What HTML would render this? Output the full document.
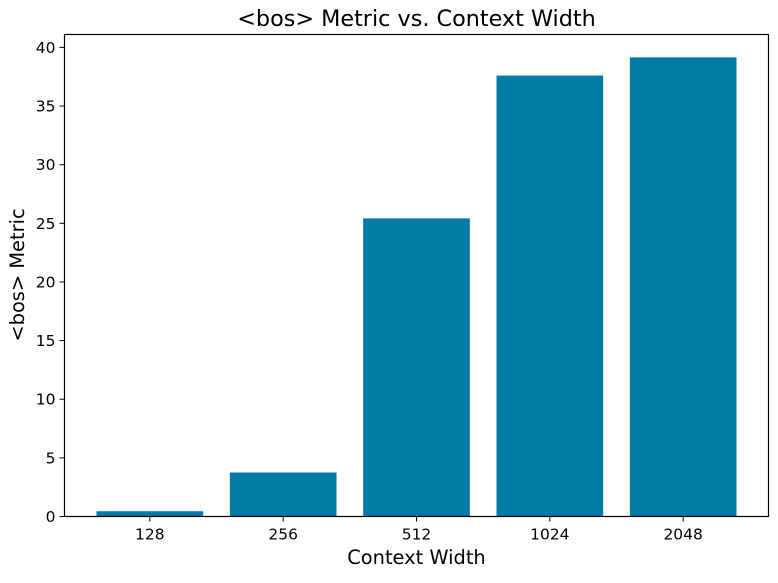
<!DOCTYPE html>
<html><head><meta charset="utf-8"><style>
body{margin:0;background:#fff;}
svg text{font-family:"DejaVu Sans","Liberation Sans",sans-serif;fill:#000;}
</style></head><body>
<svg width="778" height="578" xmlns="http://www.w3.org/2000/svg">
<rect width="778" height="578" fill="#fff"/>
<g id="bars"></g>
<g id="axes"></g>
<text x="416.5" y="26" font-size="22.3" text-anchor="middle">&lt;bos&gt; Metric vs. Context Width</text>
<text x="416.5" y="564" font-size="19.4" text-anchor="middle">Context Width</text>
<text transform="translate(24,275) rotate(-90)" font-size="19.4" text-anchor="middle">&lt;bos&gt; Metric</text>
</svg>
<script>
const categories = ["128","256","512","1024","2048"];
const values = [0.45, 3.75, 25.42, 37.6, 39.15];
const yTicks = [0,5,10,15,20,25,30,35,40];

const L=64.5, R=768.5, T=34.5, B=516.5;
const xMin=-0.64, xMax=4.64, yMax=41.1;
const x = i => L + (i - xMin)/(xMax-xMin)*(R-L);
const y = v => B - v/yMax*(B-T);
const NS="http://www.w3.org/2000/svg";
const bars=document.getElementById('bars'), axes=document.getElementById('axes');
function mk(tag, attrs, parent){const e=document.createElementNS(NS,tag);for(const k in attrs)e.setAttribute(k,attrs[k]);parent.appendChild(e);return e;}

values.forEach((v,i)=>{
  const r=mk('rect',{x:x(i-0.4),y:y(v),width:x(i+0.4)-x(i-0.4),height:B-y(v),fill:'#007ba7'},bars);
  
  
  mk('line',{x1:x(i),x2:x(i),y1:B,y2:B+5,stroke:'#000','stroke-width':1},axes);
  const lb=mk('text',{x:x(i),y:B+23,'font-size':15.5,'text-anchor':'middle'},axes);
  lb.textContent=categories[i];
  
  
});
yTicks.forEach(v=>{
  mk('line',{x1:L-5,x2:L,y1:y(v),y2:y(v),stroke:'#000','stroke-width':1},axes);
  const lb=mk('text',{x:L-9,y:y(v)+5.5,'font-size':15.5,'text-anchor':'end'},axes);
  lb.textContent=v;
  
  
});
const frame=mk('rect',{x:L,y:T,width:R-L,height:B-T,fill:'none',stroke:'#000','stroke-width':1.2},axes);


</script>
</body></html>
